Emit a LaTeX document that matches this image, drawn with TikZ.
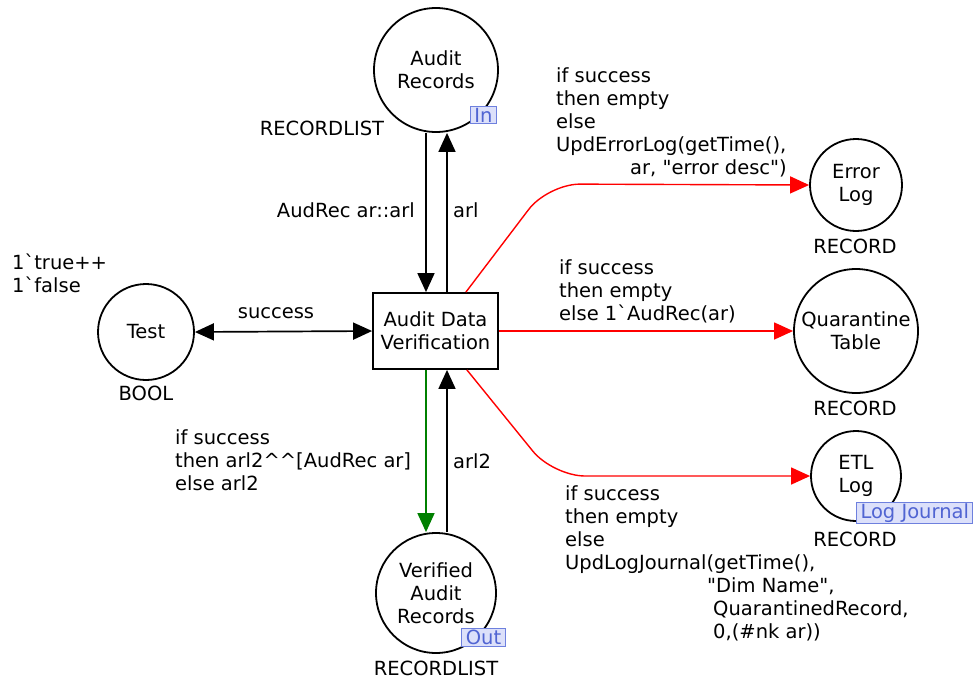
\documentclass[tikz,border=0pt]{standalone}
\usepackage{fontspec}
\setmainfont{DejaVu Sans}[Ligatures=TeXOff]
\usetikzlibrary{arrows.meta}
\definecolor{tagfill}{RGB}{220,224,250}
\definecolor{tagdraw}{RGB}{110,128,222}
\definecolor{tagtext}{RGB}{80,100,210}
\definecolor{arcred}{RGB}{255,0,0}
\definecolor{arcgreen}{RGB}{0,128,0}
\tikzset{
  every node/.style={font=\fontsize{19.5}{23}\selectfont, inner sep=0pt},
  place/.style={circle, draw=black, line width=1.8pt, align=center, fill=white},
  trans/.style={rectangle, draw=black, line width=1.8pt, align=center,
    minimum width=125pt, minimum height=76pt},
  tag/.style={fill=tagfill, draw=tagdraw, line width=1pt, text=tagtext,
    inner xsep=4pt, inner ysep=1.5pt},
  lbl/.style={align=left},
  arc/.style={line width=1.7pt, -{Triangle[length=19pt,width=17pt]}},
  biarc/.style={line width=1.7pt, {Triangle[length=19pt,width=17pt]}-{Triangle[length=19pt,width=17pt]}},
  redarc/.style={arc, arcred, line width=1.4pt},
}
\begin{document}
\begin{tikzpicture}[x=1pt, y=-1pt]
\useasboundingbox (0,0) rectangle (975,681);

% places and the transition
\node[place, minimum size=124pt] (ar) at (436,70) {Audit\\Records};
\node[place, minimum size=96pt] (test) at (146,332) {Test};
\node[trans] (adv) at (435.5,331) {Audit Data\\Verification};
\node[place, minimum size=92pt] (err) at (856,185) {Error\\Log};
\node[place, minimum size=124pt] (qt) at (856,331) {Quarantine\\Table};
\node[place, minimum size=90pt] (etl) at (856,476) {ETL\\Log};
\node[place, minimum size=120pt] (var) at (436,593) {Verified\\Audit\\Records};

% port tags
\node[tag] (inTag) at (483.5,115) {In};
\node[tag] (outTag) at (483.5,637.5) {Out};
\node[tag, anchor=west] (ljTag) at (856,513) {Log Journal};

% colour sets and initial marking
\node (arType) at (322,128) {RECORDLIST};
\node (varType) at (436,668) {RECORDLIST};
\node (testType) at (146,393) {BOOL};
\node (errType) at (855,246) {RECORD};
\node (qtType) at (855,408) {RECORD};
\node (etlType) at (855,539) {RECORD};
\node[lbl, anchor=north west] (init) at (12,254) {1`true++\\1`false};

% arcs between Audit Records and the transition
\coordinate (arOutA) at ([xshift=-10pt]ar.south);
\coordinate (arInA) at ([xshift=11pt]ar.south);
\draw[arc] (arOutA) -- (arOutA |- adv.north);
\draw[arc] (arInA |- adv.north) -- (arInA);
\node[anchor=east] (arlIn) at (415,210) {AudRec ar::arl};
\node[anchor=west] (arlOut) at (453,210) {arl};

% test arc
\draw[biarc] (test.east) -- (adv.west);
\node (succ) at (276,313) {success};

% arcs between the transition and Verified Audit Records
\coordinate (varInA) at ([xshift=-10pt]var.north);
\coordinate (varOutA) at ([xshift=11pt]var.north);
\draw[arc, arcgreen] (varInA |- adv.south) -- (varInA);
\draw[arc] (varOutA) -- (varOutA |- adv.south);
\node[lbl, anchor=north west] (verLbl) at (175,429) {if success\\then arl2\textasciicircum\textasciicircum[AudRec ar]\\else arl2};
\node[anchor=west] (arl2) at (453,461) {arl2};

% red output arcs
\coordinate (errBend) at (548,184);
\coordinate (etlBend) at (553,476);
\draw[redarc, rounded corners=32pt]
  ([xshift=-33pt]adv.north east) -- (errBend) -- (err.west);
\draw[redarc] (adv.east) -- (qt.west);
\draw[redarc, rounded corners=32pt]
  ([xshift=-32pt]adv.south east) -- (etlBend) -- (etl.west);

\node[lbl, anchor=north west] (errLbl) at (556,67)
  {if success\\then empty\\else\\UpdErrorLog(getTime(),\\\hspace*{74pt}ar, "error desc")};
\node[lbl, anchor=north west] (qtLbl) at (559,259)
  {if success\\then empty\\else 1`AudRec(ar)};
\node[lbl, anchor=north west] (etlLbl) at (565,485)
  {if success\\then empty\\else\\UpdLogJournal(getTime(),\\\hspace*{142pt}"Dim Name",\\\hspace*{148pt}QuarantinedRecord,\\\hspace*{148pt}0,(\#nk ar))};
\end{tikzpicture}
\end{document}
